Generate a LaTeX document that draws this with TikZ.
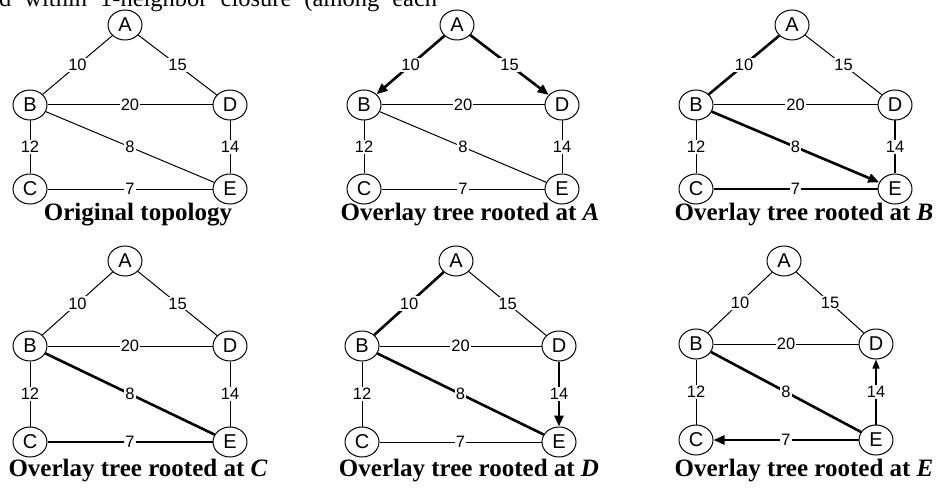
\documentclass[tikz,border=0pt]{standalone}
\usepackage{fontspec}
\setmainfont{Liberation Serif}
\newfontfamily\arialf{Liberation Sans}
\usetikzlibrary{shapes.geometric,arrows.meta}
\newcommand\mkpanel[7]{% prefix, xA, xB, xD, yA, yB, yC
  \node[vtx] (#1A) at (#2,#5) {A};
  \node[vtx] (#1B) at (#3,#6) {B};
  \node[vtx] (#1D) at (#4,#6) {D};
  \node[vtx] (#1C) at (#3,#7) {C};
  \node[vtx] (#1E) at (#4,#7) {E};
}
\newcommand\mkedges[8]{%
  \draw[#2] (#1A) -- node[elab]{10} (#1B);
  \draw[#3] (#1A) -- node[elab]{15} (#1D);
  \draw[#4] (#1B) -- node[elab]{20} (#1D);
  \draw[#5] (#1B) -- node[elab]{12} (#1C);
  \draw[#6] (#1B) -- node[elab]{8} (#1E);
  \draw[#7] (#1D) -- node[elab]{14} (#1E);
  \draw[#8] (#1C) -- node[elab]{7} (#1E);
}
\begin{document}
\begin{tikzpicture}[x=1pt,y=-1pt,
  vtx/.style={ellipse,draw,line width=1pt,minimum width=34pt,minimum height=30pt,inner sep=0pt,
    font=\arialf\fontsize{20}{20}\selectfont},
  elab/.style={fill=white,inner sep=1.2pt,font=\arialf\fontsize{16.5}{16.5}\selectfont},
  lt/.style={line width=1pt},
  hv/.style={line width=2.6pt},
  md/.style={line width=1.4pt},
  arr/.style={-{Triangle[length=11pt,width=9pt]}},
  rarr/.style={{Triangle[length=11pt,width=9pt]}-},
  srarr/.style={{Triangle[length=9pt,width=7pt]}-},
  captext/.style={anchor=base,inner sep=0pt,font=\bfseries\fontsize{25}{25}\selectfont},
]
\path[use as bounding box] (0,0) rectangle (936,489);
\clip (0,0) rectangle (936,489);

\node[anchor=base west,inner sep=0pt,font=\fontsize{24.5}{24.5}\selectfont] (toptext) at (-1,7)
  {\makebox[438pt][s]{d within 1-neighbor closure (among each}};

% row 1
\mkpanel{p1}{125}{30}{230}{25}{105}{189}
\mkedges{p1}{lt}{lt}{lt}{lt}{lt}{lt}{lt}
\node[captext] (cap1) at (138,220) {Original topology};

\mkpanel{p2}{457}{364}{562}{25}{105}{189}
\mkedges{p2}{hv,arr}{hv,arr}{lt}{lt}{lt}{lt}{lt}
\node[captext] (cap2) at (470,220) {Overlay tree rooted at \textit{A}};

\mkpanel{p3}{792}{696}{895}{25}{105}{189}
\mkedges{p3}{hv}{lt}{lt}{lt}{hv,arr}{hv}{hv}
\node[captext] (cap3) at (804,220) {Overlay tree rooted at \textit{B}};

% row 2
\mkpanel{p4}{125}{30}{230}{261}{346}{442}
\mkedges{p4}{lt}{lt}{lt}{lt}{hv}{lt}{hv}
\node[captext] (cap4) at (138,476) {Overlay tree rooted at \textit{C}};

\mkpanel{p5}{456}{362}{559}{261}{346}{442}
\mkedges{p5}{hv}{lt}{lt}{lt}{hv}{hv,arr}{lt}
\node[captext] (cap5) at (469,476) {Overlay tree rooted at \textit{D}};

\mkpanel{p6}{784}{696}{876}{261}{344}{440}
\mkedges{p6}{lt}{lt}{lt}{lt}{hv}{md,srarr}{hv,rarr}
\node[captext] (cap6) at (804,476) {Overlay tree rooted at \textit{E}};
\end{tikzpicture}
\end{document}
